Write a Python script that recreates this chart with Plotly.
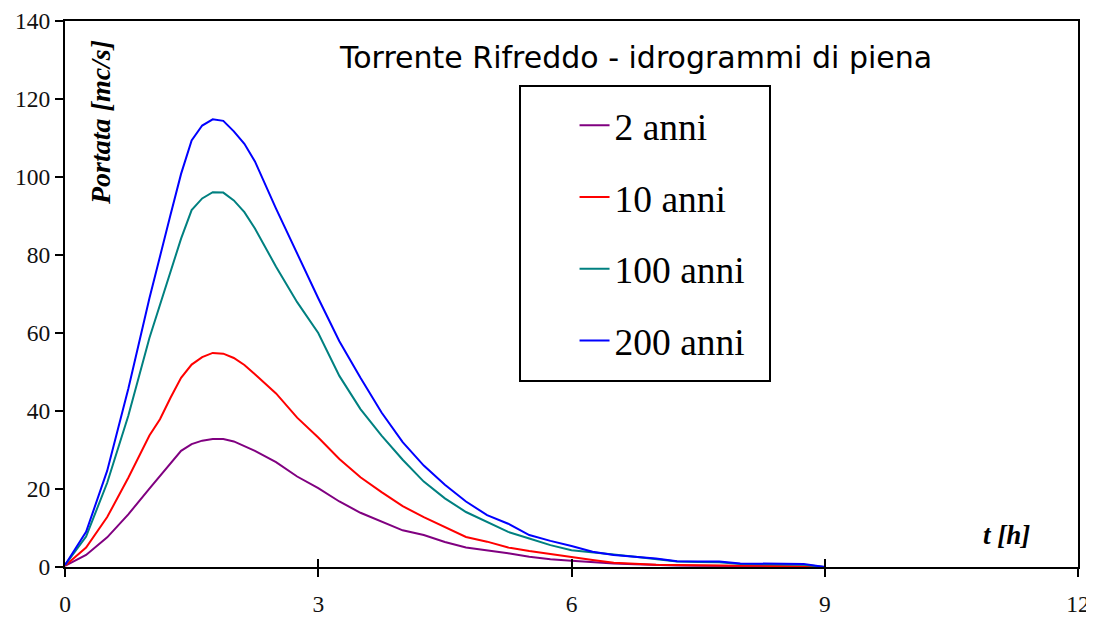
import plotly.graph_objects as go

t_h = [0.0, 0.25, 0.5, 0.75, 1.0, 1.125, 1.25, 1.375, 1.5, 1.625, 1.75, 1.875, 2.0, 2.125, 2.25,
       2.5, 2.75, 3.0, 3.25, 3.5, 3.75, 4.0, 4.25, 4.5, 4.75, 5.0, 5.25, 5.5, 5.75, 6.0,
       6.25, 6.5, 6.75, 7.0, 7.25, 7.5, 7.75, 8.0, 8.25, 8.5, 8.75, 9.0]

q_2 = [0.3, 3.1, 7.6, 13.5, 20.1, 23.3, 26.4, 29.8, 31.5, 32.4, 32.8, 32.8, 32.2, 31.0, 29.8,
       26.9, 23.2, 20.2, 16.8, 13.9, 11.7, 9.4, 8.2, 6.4, 5.0, 4.3, 3.5, 2.6, 2.0, 1.6,
       1.2, 0.9, 0.7, 0.5, 0.4, 0.3, 0.3, 0.2, 0.2, 0.2, 0.1, 0.0]
q_10 = [0.3, 5.0, 12.8, 22.9, 33.7, 37.9, 43.4, 48.5, 51.9, 53.8, 54.9, 54.7, 53.6, 51.8, 49.4,
        44.5, 38.3, 33.2, 27.7, 23.0, 19.2, 15.6, 12.8, 10.2, 7.7, 6.5, 5.0, 4.1, 3.3, 2.6,
        1.8, 1.1, 0.8, 0.6, 0.5, 0.4, 0.4, 0.3, 0.3, 0.2, 0.2, 0.0]
q_100 = [0.5, 7.8, 21.6, 38.8, 58.7, 67.3, 75.3, 84.2, 91.5, 94.5, 96.1, 96.0, 94.0, 91.0, 86.8,
         77.0, 67.9, 60.0, 49.0, 40.5, 33.7, 27.5, 21.9, 17.6, 14.1, 11.6, 9.0, 7.3, 5.6, 4.3,
         3.8, 3.2, 2.6, 2.0, 1.4, 1.3, 1.2, 0.8, 0.7, 0.6, 0.6, 0.0]
q_200 = [0.5, 9.0, 24.7, 45.7, 68.9, 80.0, 90.3, 100.8, 109.4, 113.2, 114.8, 114.4, 111.7, 108.5, 104.0,
         91.9, 80.4, 68.9, 57.9, 48.5, 39.6, 32.0, 26.0, 21.1, 16.8, 13.3, 11.1, 8.2, 6.7, 5.4,
         3.9, 3.1, 2.6, 2.2, 1.5, 1.5, 1.4, 0.9, 0.9, 0.8, 0.8, 0.0]

series_names = ["2 anni", "10 anni", "100 anni", "200 anni"]
series_vals = [q_2, q_10, q_100, q_200]
series_colors = ["#800080", "#FF0000", "#008080", "#0000FF"]

x_ticks = [0, 3, 6, 9, 12]
y_ticks = [0, 20, 40, 60, 80, 100, 120, 140]

fig = go.Figure()
for i, (name, vals, col) in enumerate(zip(series_names, series_vals, series_colors)):
    fig.add_trace(go.Scatter(x=t_h, y=vals, mode="lines", name=name,
                             line=dict(color=col, width=2),
                             legendgroup=str(i)))

# invisible trace on overlay axis for inside ticks
fig.add_trace(go.Scatter(x=[0, 12], y=[0, 0], xaxis="x2", mode="lines",
                         line=dict(width=0), showlegend=False, hoverinfo="skip"))

serif = "Liberation Serif, Times New Roman, serif"
PW, PH = 1013, 546  # plot area size in px, for placing decorations


def px_x(x):
    return (x - 65) / PW


def px_y(y):
    return (567 - y) / PH


fig.update_layout(
    width=1086, height=611,
    margin=dict(l=57, r=16, t=13, b=52, autoexpand=False),
    paper_bgcolor="white", plot_bgcolor="white",
    showlegend=True,
    legend=dict(x=0.503, y=px_y(94.3), xanchor="left", yanchor="top",
                font=dict(family=serif, size=37.5, color="black"),
                bgcolor="rgba(0,0,0,0)", borderwidth=0,
                traceorder="grouped", tracegroupgap=20),
    xaxis=dict(range=[0, 12], tickvals=x_ticks, ticks="outside", ticklen=8, tickwidth=2,
               tickcolor="black", showline=True, linecolor="black", linewidth=2,
               mirror=True, showgrid=False, zeroline=False, automargin=False,
               tickfont=dict(family=serif, size=23.5, color="#111"),
               ticklabelstandoff=7, ticklabeloverflow="allow"),
    xaxis2=dict(range=[0, 12], tickvals=x_ticks, ticks="inside", ticklen=8, tickwidth=2,
                tickcolor="black", overlaying="x", side="bottom", showticklabels=False,
                showline=False, showgrid=False, zeroline=False, automargin=False),
    yaxis=dict(range=[0, 140], tickvals=y_ticks, ticks="outside", ticklen=8, tickwidth=2,
               tickcolor="black", showline=True, linecolor="black", linewidth=2,
               mirror=True, showgrid=False, zeroline=False, automargin=False,
               tickfont=dict(family=serif, size=23.5, color="#111"),
               ticklabeloverflow="allow"),
    shapes=[dict(type="rect", xref="paper", yref="paper",
                 x0=px_x(520), x1=px_x(770), y0=px_y(381), y1=px_y(86),
                 line=dict(color="black", width=2), fillcolor="rgba(0,0,0,0)")],
    annotations=[
        dict(text="Torrente Rifreddo - idrogrammi di piena", xref="paper", yref="paper",
             x=px_x(635), y=px_y(58), showarrow=False,
             xanchor="center", yanchor="middle",
             font=dict(family="DejaVu Sans, Verdana, sans-serif",
                       size=30, color="black")),
        dict(text="<b><i>Portata [mc/s]</i></b>", xref="paper", yref="paper",
             x=px_x(100), y=px_y(123), showarrow=False, textangle=-90,
             xanchor="center", yanchor="middle",
             font=dict(family=serif, size=28, color="black")),
        dict(text="<b><i>t [h]</i></b>", xref="paper", yref="paper",
             x=px_x(1006), y=px_y(535), showarrow=False,
             xanchor="center", yanchor="middle",
             font=dict(family=serif, size=27, color="black")),
    ],
)

fig.write_html("out.html")
